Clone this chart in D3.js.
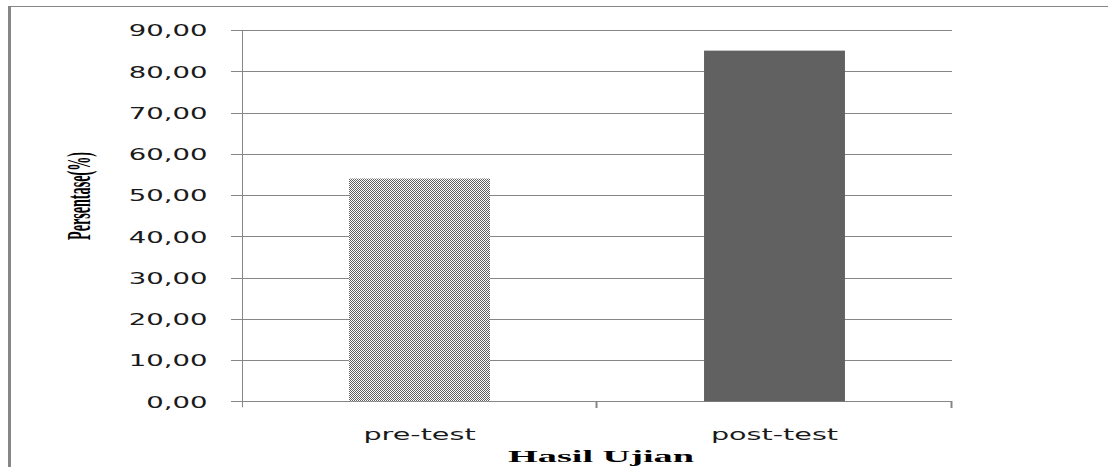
<!DOCTYPE html>
<html>
<head>
<meta charset="utf-8">
<script src="https://cdn.jsdelivr.net/npm/d3@7"></script>
<style>
  html, body { margin: 0; padding: 0; background: #fff; }
  svg { display: block; }
</style>
</head>
<body>
<svg id="chart" width="1108" height="467"></svg>
<script>
// Exam results: percentage before and after the lesson
const categories = ["pre-test", "post-test"];
const values = [54.0, 85.0];
const yTicks = [0, 10, 20, 30, 40, 50, 60, 70, 80, 90];
const yTitle = "Persentase(%)";
const xTitle = "Hasil Ujian";

const svg = d3.select("#chart");
const gridColor = "#868686";

const plot = { left: 242, right: 952, top: 30, bottom: 401.3 };

const x = d3.scaleBand()
  .domain(categories)
  .range([plot.left, plot.right])
  .paddingInner(0.603)
  .paddingOuter(0.3015);

const y = d3.scaleLinear()
  .domain([0, 90])
  .range([plot.bottom, plot.top]);

const fmt = v => d3.format(".2f")(v).replace(".", ",");

// dotted fill for the pre-test bar
const defs = svg.append("defs");
const pat = defs.append("pattern")
  .attr("id", "dots")
  .attr("patternUnits", "userSpaceOnUse")
  .attr("width", 2).attr("height", 2);
pat.append("rect").attr("width", 2).attr("height", 2).attr("fill", "#ffffff");
pat.append("rect").attr("x", 0).attr("y", 0).attr("width", 1).attr("height", 1).attr("fill", "#5e5e5e");
pat.append("rect").attr("x", 1).attr("y", 1).attr("width", 1).attr("height", 1).attr("fill", "#5e5e5e");

// frame
svg.append("line")
  .attr("x1", 8).attr("x2", 1108).attr("y1", 6.5).attr("y2", 6.5)
  .attr("stroke", gridColor).attr("stroke-width", 1);
svg.append("line")
  .attr("x1", 9.5).attr("x2", 9.5).attr("y1", 6).attr("y2", 467)
  .attr("stroke", gridColor).attr("stroke-width", 3);

// gridlines
svg.append("g")
  .selectAll("line")
  .data(yTicks)
  .join("line")
  .attr("x1", plot.left - 11).attr("x2", plot.right)
  .attr("y1", d => Math.round(y(d)) + 0.5)
  .attr("y2", d => Math.round(y(d)) + 0.5)
  .attr("stroke", gridColor).attr("stroke-width", 1);

// y axis
const yAxis = svg.append("g")
  .attr("transform", `translate(${plot.left + 0.5},0)`)
  .call(d3.axisLeft(y).tickValues(yTicks).tickFormat(fmt).tickSize(0).tickPadding(0));
yAxis.select(".domain").remove();
yAxis.append("line")
  .attr("x1", 0).attr("x2", 0)
  .attr("y1", plot.top).attr("y2", plot.bottom + 6)
  .attr("stroke", gridColor);
yAxis.selectAll(".tick text")
  .attr("x", null).attr("dy", null)
  .attr("transform", "translate(-35,5.8) scale(1.72,1)")
  .attr("fill", "#1a1a1a")
  .attr("font-family", "DejaVu Sans")
  .attr("font-size", 16)
  .attr("text-anchor", "end");

// bars
svg.append("g")
  .selectAll("rect")
  .data(categories.map((c, i) => ({ c, v: values[i] })))
  .join("rect")
  .attr("x", d => x(d.c))
  .attr("width", x.bandwidth())
  .attr("y", d => y(d.v))
  .attr("height", d => y(0) - y(d.v))
  .attr("fill", (d, i) => i === 0 ? "url(#dots)" : "#616161");

// category separators below the baseline
const step = x.step();
const xTickPos = [plot.left + step, plot.left + 2 * step];
svg.append("g")
  .selectAll("line")
  .data(xTickPos)
  .join("line")
  .attr("x1", d => d - 0.5).attr("x2", d => d - 0.5)
  .attr("y1", Math.round(y(0))).attr("y2", Math.round(y(0)) + 7)
  .attr("stroke", gridColor).attr("stroke-width", 2);

// category labels
svg.append("g")
  .selectAll("text")
  .data(categories)
  .join("text")
  .attr("transform", d => `translate(${x(d) + x.bandwidth() / 2},440) scale(1.79,1)`)
  .attr("text-anchor", "middle")
  .attr("font-family", "DejaVu Sans")
  .attr("font-size", 16)
  .attr("fill", "#1a1a1a")
  .text(d => d);

// axis titles
svg.append("text")
  .attr("transform", "translate(90,196) rotate(-90)")
  .attr("text-anchor", "middle")
  .attr("font-family", "Liberation Serif")
  .attr("font-weight", "bold")
  .attr("font-size", 34)
  .attr("textLength", 88)
  .attr("lengthAdjust", "spacingAndGlyphs")
  .attr("fill", "#000")
  .text(yTitle);

svg.append("text")
  .attr("x", 601).attr("y", 462)
  .attr("text-anchor", "middle")
  .attr("font-family", "Liberation Serif")
  .attr("font-weight", "bold")
  .attr("font-size", 16)
  .attr("textLength", 186)
  .attr("lengthAdjust", "spacingAndGlyphs")
  .attr("fill", "#000")
  .text(xTitle);
</script>
</body>
</html>
